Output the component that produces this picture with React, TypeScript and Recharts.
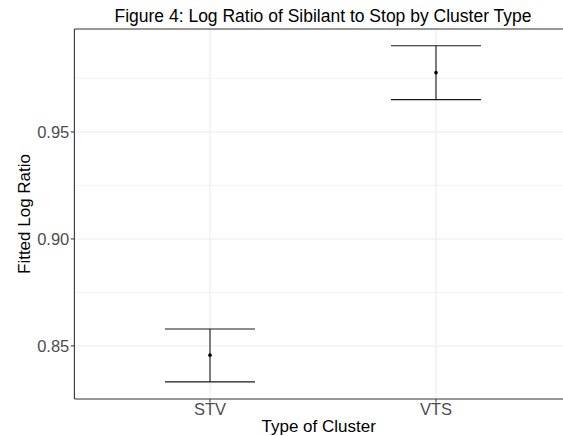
import React from 'react';
import {
  ComposedChart,
  Scatter,
  ErrorBar,
  XAxis,
  YAxis,
  ReferenceLine,
} from 'recharts';

const categories = ['STV', 'VTS'];
const fitted = [0.8457, 0.9777];
const lower = [0.8332, 0.9651];
const upper = [0.8579, 0.9903];

const yTicks = [0.85, 0.9, 0.95];
const yMinor = [0.875, 0.925, 0.975];
const yDomain = [0.8252, 0.9981];
// right edge of the panel falls just outside the picture
const xDomain = [0.4, 2.562];

const data = categories.map((c, i) => ({
  x: i + 1,
  name: c,
  y: fitted[i],
  err: [fitted[i] - lower[i], upper[i] - fitted[i]],
}));

const FONT = '"Liberation Sans", Arial, Helvetica, sans-serif';

const Dot = (props: any) => {
  const { cx, cy } = props;
  if (cx == null || cy == null) return null;
  return <circle cx={cx} cy={cy} r={1.8} fill="#000" />;
};

const YLabel = (props: any) => {
  const vb = props.viewBox;
  const cy = vb.y + vb.height / 2;
  return (
    <text
      x={29.5}
      y={cy}
      transform={`rotate(-90, 29.5, ${cy})`}
      textAnchor="middle"
      fontSize={17}
      fontFamily={FONT}
      fill="#000"
    >
      Fitted Log Ratio
    </text>
  );
};

export default function App() {
  return (
    <div
      style={{
        position: 'absolute',
        left: 0,
        top: 0,
        width: 563,
        height: 436,
        overflow: 'hidden',
        background: '#fff',
      }}
    >
      <div
        style={{
          position: 'absolute',
          left: 74.4,
          width: 497.2,
          top: 8.2,
          textAlign: 'center',
          fontFamily: FONT,
          fontSize: 17.5,
          lineHeight: 1,
          color: '#000',
          whiteSpace: 'nowrap',
        }}
      >
        Figure 4: Log Ratio of Sibilant to Stop by Cluster Type
      </div>
      <ComposedChart
        width={563}
        height={436}
        data={data}
        margin={{ top: 29, right: 0, bottom: 0, left: 0 }}
      >
        <XAxis
          dataKey="x"
          type="number"
          domain={xDomain}
          ticks={[1, 2]}
          allowDataOverflow
          tickFormatter={(v: number) => categories[v - 1]}
          height={37}
          axisLine={false}
          tickLine={{ stroke: '#333333' }}
          tickSize={3.7}
          tickMargin={0.6}
          tick={{ fill: '#4D4D4D', fontSize: 16.5, fontFamily: FONT }}
          label={{
            value: 'Type of Cluster',
            position: 'insideBottom',
            offset: 4.5,
            style: { fill: '#000', fontSize: 17, fontFamily: FONT },
          }}
        />
        <YAxis
          dataKey="y"
          type="number"
          domain={yDomain}
          ticks={yTicks}
          allowDataOverflow
          tickFormatter={(v: number) => v.toFixed(2)}
          width={74.4}
          axisLine={false}
          tickLine={{ stroke: '#333333' }}
          tickSize={3.7}
          tickMargin={1.4}
          tick={{ fill: '#4D4D4D', fontSize: 16.5, fontFamily: FONT }}
          label={<YLabel />}
        />
        {yMinor.map((v) => (
          <ReferenceLine key={'m' + v} y={v} stroke="#F2F2F2" strokeWidth={1} />
        ))}
        {yTicks.map((v) => (
          <ReferenceLine key={'t' + v} y={v} stroke="#EBEBEB" strokeWidth={1.1} />
        ))}
        {[1, 2].map((v) => (
          <ReferenceLine key={'v' + v} x={v} stroke="#EBEBEB" strokeWidth={1.1} />
        ))}
        {/* panel border: left, top and bottom (right side is off the picture) */}
        <ReferenceLine x={xDomain[0]} stroke="#333333" strokeWidth={1.1} />
        <ReferenceLine y={yDomain[1]} stroke="#333333" strokeWidth={1.1} />
        <ReferenceLine y={yDomain[0]} stroke="#333333" strokeWidth={1.1} />
        <Scatter dataKey="y" shape={<Dot />} isAnimationActive={false}>
          <ErrorBar
            dataKey="err"
            direction="y"
            width={45}
            stroke="#1A1A1A"
            strokeWidth={1.1}
            isAnimationActive={false}
          />
        </Scatter>
      </ComposedChart>
    </div>
  );
}
